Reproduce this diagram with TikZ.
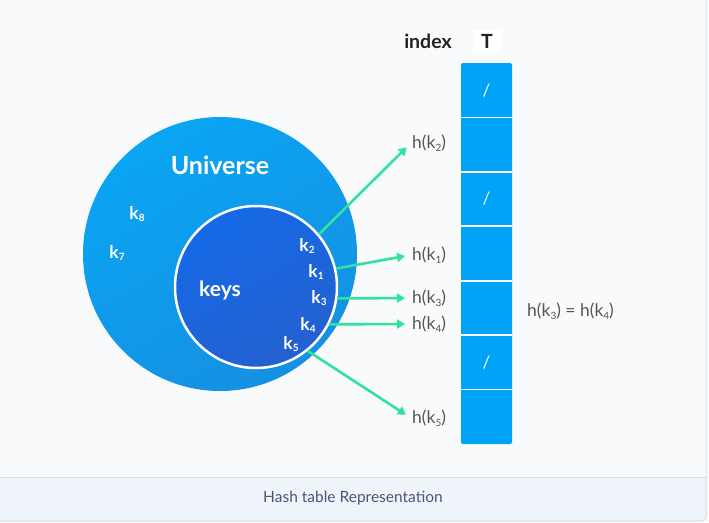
\documentclass[tikz,border=0pt]{standalone}
\usepackage{fontspec}
\setmainfont{Lato}
\usetikzlibrary{positioning,arrows.meta,calc}
\definecolor{pagebg}{HTML}{F9FAFC}
\definecolor{capbg}{HTML}{EFF4FB}
\definecolor{frameline}{HTML}{D3DDE8}
\definecolor{univtop}{HTML}{0AA5F3}
\definecolor{univbot}{HTML}{1590E2}
\definecolor{keystop}{HTML}{1569E6}
\definecolor{keysbot}{HTML}{2460D0}
\definecolor{cellblue}{HTML}{00A3F5}
\definecolor{hashgreen}{HTML}{30E29C}
\definecolor{labelgray}{HTML}{555555}
\definecolor{headdark}{HTML}{222222}
\definecolor{capgray}{HTML}{4B5675}
\newcommand{\kk}[1]{k\raisebox{-0.3ex}{\fontsize{10}{10}\selectfont#1}}
\tikzset{
  keylabel/.style={text=white, font=\bfseries\fontsize{17.5}{17.5}\selectfont, inner sep=0pt},
  hashlabel/.style={text=labelgray, font=\fontsize{17.5}{17.5}\selectfont, inner sep=1pt},
  hasharrow/.style={hashgreen, line width=2.6pt, shorten >=6pt, -{Triangle[length=8pt,width=9pt]}},
  slotmark/.style={text=white, font=\fontsize{17}{17}\selectfont, inner sep=0pt},
}

\begin{document}
\begin{tikzpicture}[x=1pt, y=-1pt]
  \useasboundingbox (0,0) rectangle (709,522);
  \fill[pagebg] (0,0) rectangle (709,522);
  \fill[capbg, rounded corners=4pt] (-4,477) rectangle (706,521);
  \draw[frameline, line width=1pt] (-4,477) -- (706,477);
  \draw[frameline, line width=1pt, rounded corners=4pt] (706,-4) -- (706,521) -- (-4,521);

  \node[circle, minimum size=274pt, inner sep=0pt, top color=univtop, bottom color=univbot, shading angle=30] (universe) at (220,254) {};
  \node[circle, minimum size=162pt, inner sep=0pt, top color=keystop, bottom color=keysbot, shading angle=30, draw=white, line width=2.5pt] (keys) at (256,287) {};

  \node[keylabel, font=\bfseries\fontsize{25}{25}\selectfont] (univ) at (220,165) {Universe};
  \node[keylabel, font=\bfseries\fontsize{21}{21}\selectfont] (keysname) at (220,290) {keys};
  \node[keylabel] (k8) at (137,214) {\kk{8}};
  \node[keylabel] (k7) at (117,253) {\kk{7}};
  \node[keylabel] (k2) at (307,246) {\kk{2}};
  \node[keylabel] (k1) at (316,272) {\kk{1}};
  \node[keylabel] (k3) at (319,298) {\kk{3}};
  \node[keylabel] (k4) at (308,325) {\kk{4}};
  \node[keylabel] (k5) at (291,344) {\kk{5}};

  \node[text=headdark, font=\bfseries\fontsize{19.5}{19.5}\selectfont] (index) at (428,41) {index};
  \node[fill=white, text=headdark, font=\bfseries\fontsize{19.5}{19.5}\selectfont, minimum width=28pt, minimum height=23pt, inner sep=0pt] (T) at (487,41) {T};

  \fill[cellblue, rounded corners=2pt] (461,63) rectangle (512,444);
  \foreach \i in {1,...,7}
    \coordinate (slot\i) at (486.5,{63+(\i-0.5)*54.43});
  \foreach \i in {1,...,6}
    \draw[white, line width=1.8pt] (461,{63+\i*54.43}) -- (512,{63+\i*54.43});
  \foreach \i in {1,3,6}
    \node[slotmark] at (slot\i) {/};

  \node[hashlabel, anchor=west] (h2) at (411,143) {h(\kk{2})};
  \node[hashlabel, anchor=west] (h1) at (411,255) {h(\kk{1})};
  \node[hashlabel, anchor=west] (h3) at (411,298) {h(\kk{3})};
  \node[hashlabel, anchor=west] (h4) at (411,324) {h(\kk{4})};
  \node[hashlabel, anchor=west] (h5) at (411,418) {h(\kk{5})};
  \node[hashlabel, anchor=west] (same) at (526,311) {h(\kk{3}) = h(\kk{4})};

  \draw[hasharrow] (keys.40) -- (h2.west);
  \draw[hasharrow] (keys.13) -- (h1.west);
  \draw[hasharrow] (keys.-8) -- (h3.west);
  \draw[hasharrow] (keys.-27) -- (h4.west);
  \draw[hasharrow] (keys.-51) -- (h5.west);

  \node[text=capgray, font=\fontsize{15.5}{16}\selectfont] (caption) at (353,498) {Hash table Representation};
\end{tikzpicture}
\end{document}
